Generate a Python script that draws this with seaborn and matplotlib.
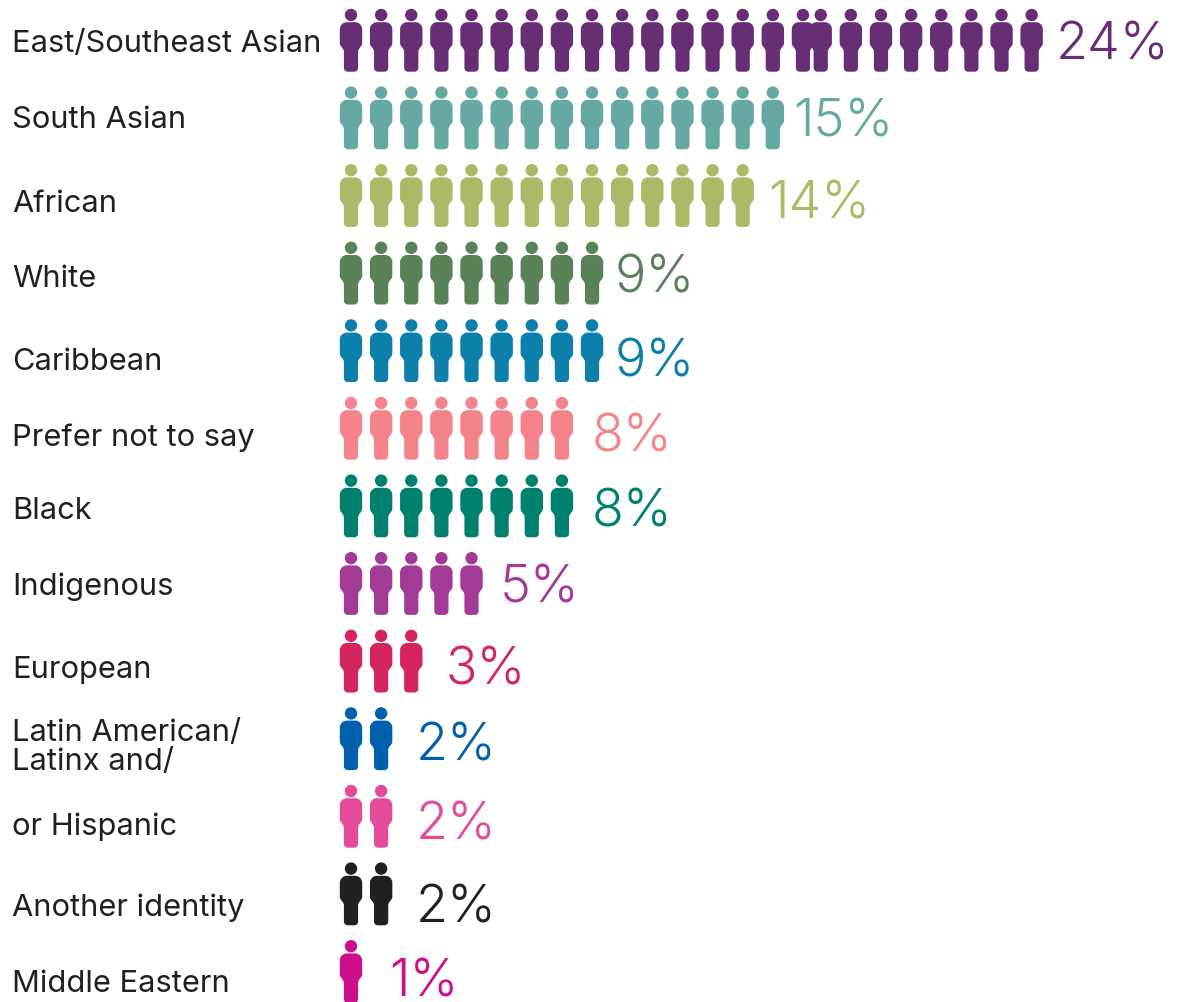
import matplotlib
matplotlib.use("Agg")
import matplotlib.pyplot as plt
from matplotlib.path import Path
import numpy as np
import pandas as pd
import seaborn as sns

groups = ["East/Southeast Asian", "South Asian", "African", "White", "Caribbean",
          "Prefer not to say", "Black", "Indigenous", "European",
          "Latin American/\nLatinx and/", "or Hispanic", "Another identity",
          "Middle Eastern"]
percents = [24, 15, 14, 9, 9, 8, 8, 5, 3, 2, 2, 2, 1]
colors = ["#672D75", "#66A8A2", "#ADB966", "#5A8259", "#0C7FAB", "#F5838B", "#00816D",
          "#A23A96", "#D4265C", "#0060AE", "#E44C9A", "#231F20", "#CE0F8B"]

# layout, in pixels
W, H = 1177, 1002
ICON_X0, ICON_DX = 351.0, 30.13
ROW_Y0, ROW_DY = 41.0, 77.6
label_nudge = [3, 1, 8, 5, 11, 9, 4, 3, 8, 8, 10, 13, 12]
value_gap = [24, 20, 25, 23, 23, 30, 30, 28, 34, 35, 35, 35, 38]
value_nudge = [0, -1, 3, 0, 6, 4, 1, -1, 4, 2, 3, 9, 5]


def person_icon():
    """Standing figure: round head above a rounded torso on a single leg column."""
    head = Path.circle((0, 26), 6.2)
    k = 0.55
    w, lw, top, bot = 11.2, 7.1, 18.8, -30.7
    sh, ft = 7.0, 3.8
    verts = [(-w + sh, top), (w - sh, top),
             (w - sh + k * sh, top), (w, top - sh + k * sh), (w, top - sh),
             (w, -2.0),
             (w, -6.0), (lw, -6.5), (lw, -11.0),
             (lw, bot + ft),
             (lw, bot + ft - k * ft), (lw - ft + k * ft, bot), (lw - ft, bot),
             (-lw + ft, bot),
             (-lw + ft - k * ft, bot), (-lw, bot + ft - k * ft), (-lw, bot + ft),
             (-lw, -11.0),
             (-lw, -6.5), (-w, -6.0), (-w, -2.0),
             (-w, top - sh),
             (-w, top - sh + k * sh), (-w + sh - k * sh, top), (-w + sh, top),
             (-w + sh, top)]
    codes = [Path.MOVETO, Path.LINETO,
             Path.CURVE4, Path.CURVE4, Path.CURVE4,
             Path.LINETO,
             Path.CURVE4, Path.CURVE4, Path.CURVE4,
             Path.LINETO,
             Path.CURVE4, Path.CURVE4, Path.CURVE4,
             Path.LINETO,
             Path.CURVE4, Path.CURVE4, Path.CURVE4,
             Path.LINETO,
             Path.CURVE4, Path.CURVE4, Path.CURVE4,
             Path.LINETO,
             Path.CURVE4, Path.CURVE4, Path.CURVE4,
             Path.CLOSEPOLY]
    return Path.make_compound_path(head, Path(verts, codes))


# one record per icon; the long first row closes up after its sixteenth figure
rows = []
for row, (name, pct) in enumerate(zip(groups, percents)):
    for i in range(pct):
        rows.append({"group": name, "row": row, "slot": i - (0.41 if i >= 16 else 0)})
icons = pd.DataFrame(rows)

sns.set_theme(style="white", rc={"font.family": ["Inter", "DejaVu Sans"]})
fig = plt.figure(figsize=(W / 100, H / 100), dpi=100, facecolor="white")
ax = fig.add_axes([0, 0, 1, 1])

icon = person_icon()
size_pt = 2 * 32.2 * 72 / 100
sns.scatterplot(data=icons, x="slot", y="row", hue="group", hue_order=groups,
                palette=colors, marker=icon, s=size_pt ** 2, linewidth=0,
                legend=False, ax=ax)

ax.set_xlim(-ICON_X0 / ICON_DX, (W - ICON_X0) / ICON_DX)
ax.set_ylim((H - ROW_Y0) / ROW_DY, -ROW_Y0 / ROW_DY)
ax.set_axis_off()

for row, (name, pct, col) in enumerate(zip(groups, percents, colors)):
    ax.text(12 / W, 1 - (ROW_Y0 + row * ROW_DY + label_nudge[row]) / H, name,
            transform=ax.transAxes, ha="left", va="center", fontsize=22.2,
            color="#231F20", linespacing=1.05)
    last = icons.loc[icons["row"] == row, "slot"].max()
    ax.annotate(f"{pct}%", xy=(last, row), xytext=(value_gap[row], -value_nudge[row]),
                textcoords="offset pixels", ha="left", va="center_baseline",
                fontsize=37.5, fontweight=300, color=col)

fig.savefig("out.png", dpi=100)
